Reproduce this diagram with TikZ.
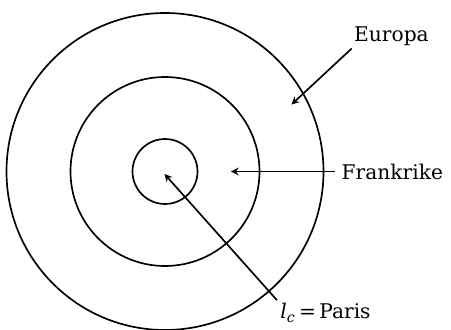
\documentclass[tikz,border=0pt]{standalone}
\usepackage{fontspec}
\setmainfont{DejaVu Serif}
\usepackage{tikz}
\usetikzlibrary{calc}

\begin{document}
\begin{tikzpicture}[>=stealth, line width=0.95pt, font=\fontsize{11.5}{13}\selectfont]

  \useasboundingbox (0,0) rectangle (9.02,6.6);

  % Centre (Paris)
  \coordinate (centre) at (3.30,3.17);

  % Circles
  \draw (centre) circle (0.65);
  \draw (centre) circle (1.89);
  \draw (centre) circle (3.17);

  % Labels
  \node[inner sep=1pt] (europa) at (7.83,5.87) {Europa};
  \node[right] (frankrike) at (6.70,3.17) {Frankrike};
  \node[inner sep=1.5pt] (paris) at (6.51,0.34) {\textit{l\textsubscript{c}}\,=\,Paris};

  % Arrow tips
  \coordinate (europatip) at (5.83,4.51);
  \coordinate (frankriketip) at (4.62,3.17);
  \coordinate (paristip) at (3.29,3.12);

  % Arrows
  \draw[->] (europa.south west) -- (europatip);
  \draw[->] (frankrike.west) -- (frankriketip);
  \draw[->] (paris.north west) -- (paristip);

\end{tikzpicture}
\end{document}
